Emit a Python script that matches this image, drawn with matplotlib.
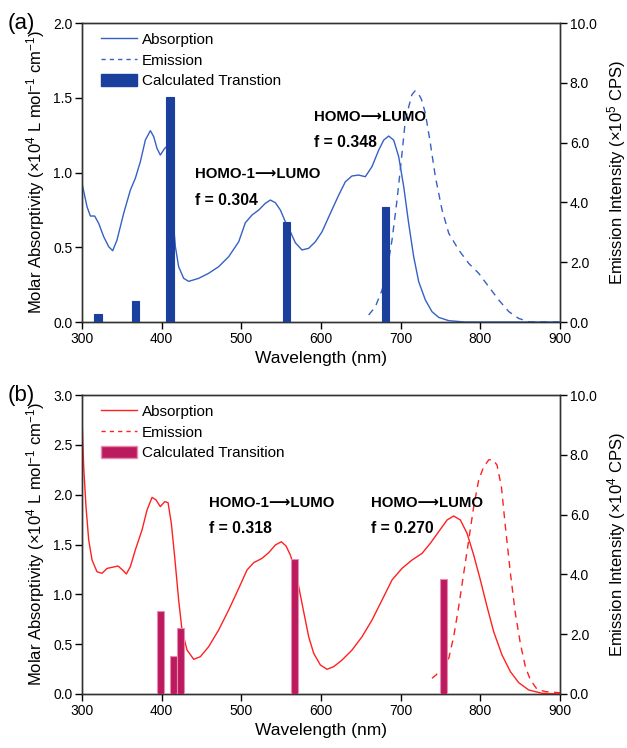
import numpy as np
import matplotlib
matplotlib.use('Agg')
import matplotlib.pyplot as plt
from matplotlib.lines import Line2D
from matplotlib.patches import Patch

plt.rcParams['font.family'] = ['Liberation Sans', 'DejaVu Sans']
plt.rcParams['mathtext.fontset'] = 'custom'
plt.rcParams['mathtext.rm'] = 'Liberation Sans'
plt.rcParams['mathtext.it'] = 'Liberation Sans:italic'

# ---- panel (a) data ----
abs_a_wl = [300, 306.3, 310.5, 315.9, 320.9, 327.2, 333.5, 338.5, 343.9, 352.3, 360.7,
            366.9, 373.2, 379.5, 385.8, 390, 394.1, 398.3, 403.8, 406.7, 411, 417.2,
            421.3, 427.6, 433.9, 446.4, 459, 471.5, 484.1, 496.7, 505, 513.4, 521.8,
            530.1, 536.4, 542.7, 549, 555.2, 561.5, 567.8, 576.1, 584.5, 592.9, 601.3,
            611.7, 622.2, 630.5, 638.9, 647.3, 655.6, 664, 672.4, 678.7, 684.9, 691.2,
            697.5, 703.8, 710, 716.3, 722.6, 731, 739.3, 747.7, 760.3, 781, 900]
abs_a_val = [0.928, 0.771, 0.709, 0.709, 0.66, 0.571, 0.504, 0.477, 0.548, 0.727, 0.883,
             0.961, 1.072, 1.217, 1.28, 1.24, 1.162, 1.117, 1.162, 1.175, 0.9, 0.504,
             0.37, 0.292, 0.272, 0.292, 0.326, 0.37, 0.437, 0.537, 0.664, 0.716, 0.749,
             0.794, 0.816, 0.798, 0.749, 0.671, 0.604, 0.53, 0.482, 0.493, 0.537, 0.604,
             0.727, 0.849, 0.938, 0.977, 0.983, 0.972, 1.04, 1.15, 1.217, 1.244, 1.217,
             1.106, 0.905, 0.66, 0.437, 0.27, 0.147, 0.069, 0.031, 0.009, 0.0, 0.0]
em_a_wl = [659.8, 668.2, 676.6, 682.9, 689.1, 695.4, 700.8, 705.9, 710, 714, 718, 722,
           726, 731, 737.2, 743.5, 751.9, 760.3, 772.8, 785.4, 797.9, 810.5, 823, 835.6,
           848.1, 860.7, 898]
em_a_val = [0.234, 0.512, 1.07, 1.74, 2.74, 4.08, 5.42, 6.76, 7.19, 7.6, 7.73, 7.65,
            7.45, 6.98, 5.98, 4.86, 3.75, 2.97, 2.41, 1.96, 1.63, 1.18, 0.74, 0.35, 0.12,
            0.01, 0.0]
bar_a_wl = [320, 367.5, 410.5, 557, 681]
bar_a_val = [0.056, 0.143, 1.506, 0.67, 0.77]

# ---- panel (b) data ----
abs_b_wl = [300, 302.1, 305, 308.4, 312.6, 318.8, 325.1, 331.4, 337.7, 345.2, 351,
            355.6, 360.7, 366.9, 375.3, 381.6, 387.9, 392.9, 398.3, 403.8, 408, 412.1,
            416.3, 421.3, 425.5, 431.8, 440.2, 448.5, 459, 471.5, 484.1, 496.7, 507.1,
            515.5, 525.9, 534.3, 542.7, 550.2, 556.1, 561.5, 567, 572, 578.2, 584.5,
            590.8, 599.2, 607.5, 615.9, 626.4, 638.9, 651.5, 664, 676.6, 689.1, 701.7,
            714.2, 726.8, 737.2, 747.7, 758.2, 766.5, 774.9, 783.3, 791.6, 800, 808.4,
            816.7, 827.2, 837.7, 848.1, 860.7, 877.4, 900]
abs_b_val = [2.77, 2.28, 1.88, 1.545, 1.344, 1.227, 1.211, 1.26, 1.271, 1.284, 1.244,
             1.204, 1.278, 1.445, 1.645, 1.846, 1.973, 1.947, 1.88, 1.93, 1.92, 1.712,
             1.378, 0.943, 0.642, 0.441, 0.348, 0.374, 0.475, 0.642, 0.843, 1.06, 1.244,
             1.318, 1.361, 1.418, 1.495, 1.528, 1.485, 1.395, 1.25, 1.077, 0.826, 0.575,
             0.408, 0.291, 0.248, 0.274, 0.341, 0.441, 0.575, 0.742, 0.943, 1.144, 1.261,
             1.344, 1.411, 1.512, 1.629, 1.746, 1.786, 1.746, 1.612, 1.395, 1.144, 0.876,
             0.625, 0.391, 0.224, 0.114, 0.04, 0.007, 0.0]
em_b_wl = [739.3, 744.3, 750, 760.3, 766.5, 772.8, 779.1, 785.4, 791.6, 797.9, 804.2,
           810.5, 815.5, 820.9, 826.4, 831.4, 837.7, 843.9, 850.2, 856.5, 862.8, 871.1,
           881.6, 900]
em_b_val = [0.525, 0.635, 0.8, 1.19, 1.92, 2.92, 4.04, 5.15, 6.26, 7.16, 7.6, 7.83,
            7.84, 7.66, 6.93, 5.6, 4.04, 2.7, 1.69, 0.91, 0.47, 0.16, 0.08, 0.04]
bar_b_wl = [398.5, 415, 424, 567, 754]
bar_b_val = [0.832, 0.384, 0.658, 1.357, 1.153]

fig = plt.figure(figsize=(6.27, 7.48), dpi=100)

note_font = ['Liberation Sans Narrow', 'Liberation Sans', 'DejaVu Sans']
panels = [
    dict(pos=[0.1308, 0.5695, 0.7624, 0.3997], tag='(a)', line='#3560C4', bar='#1B3F9C',
         edge='#1B3F9C', absw=abs_a_wl, absv=abs_a_val, emw=em_a_wl, emv=em_a_val,
         bw=bar_a_wl, bv=bar_a_val, ymax=2.0, yticks=np.arange(0, 2.01, 0.5), exp=5,
         leg='Calculated Transtion',
         notes=[(195, 0.99, 0.816, 'HOMO-1', 'f = 0.304'),
                (313.5, 1.373, 1.199, 'HOMO', 'f = 0.348')]),
    dict(pos=[0.1308, 0.0722, 0.7624, 0.3997], tag='(b)', line='#FF2020', bar='#BC1A5E',
         edge='#E68AB0', absw=abs_b_wl, absv=abs_b_val, emw=em_b_wl, emv=em_b_val,
         bw=bar_b_wl, bv=bar_b_val, ymax=3.0, yticks=np.arange(0, 3.01, 0.5), exp=4,
         leg='Calculated Transition',
         notes=[(208.5, 1.919, 1.662, 'HOMO-1', 'f = 0.318'),
                (370.5, 1.919, 1.662, 'HOMO', 'f = 0.270')]),
]

for p in panels:
    ax = fig.add_axes(p['pos'])
    ax2 = ax.twinx()
    ax.bar(p['bw'], p['bv'], width=9, color=p['bar'], edgecolor=p['edge'], linewidth=0.8,
           zorder=3)
    ax.plot(p['absw'], p['absv'], color=p['line'], lw=1.0, zorder=2)
    ax2.plot(p['emw'], p['emv'], color=p['line'], lw=1.0, ls=(0, (5, 4)))
    ax.set_zorder(ax2.get_zorder() + 1)
    ax.patch.set_visible(False)

    ax.set_xlim(300, 900)
    ax.set_ylim(0, p['ymax'])
    ax2.set_ylim(0, 10)
    ax.set_xticks(np.arange(300, 901, 100))
    ax.set_yticks(p['yticks'])
    ax.set_yticklabels([f'{v:.1f}' for v in p['yticks']])
    r_ticks = np.arange(0, 10.1, 2)
    ax2.set_yticks(r_ticks)
    ax2.set_yticklabels([f'{v:.1f}' for v in r_ticks])
    for a in (ax, ax2):
        a.tick_params(direction='out', length=5, width=1, labelsize=10, pad=2)
        for s in a.spines.values():
            s.set_linewidth(1.0)
            s.set_color('#333333')
    ax.set_xlabel('Wavelength (nm)', fontsize=12.5, labelpad=4)
    ax.set_ylabel(r'Molar Absorptivity ($\times$10$^{4}$ L mol$^{-1}$ cm$^{-1}$)',
                  fontsize=12, labelpad=4)
    ax2.set_ylabel(r'Emission Intensity ($\times$10$^{%d}$ CPS)' % p['exp'],
                   fontsize=12, labelpad=6)

    handles = [Line2D([], [], color=p['line'], lw=1.0),
               Line2D([], [], color=p['line'], lw=1.0, ls=(0, (3, 3))),
               Patch(facecolor=p['bar'], edgecolor=p['edge'])]
    ax.legend(handles, ['Absorption', 'Emission', p['leg']], loc='upper left',
              frameon=False, fontsize=11, handlelength=2.4, handleheight=0.9,
              borderaxespad=0.2, labelspacing=0.4, handletextpad=0.3,
              bbox_to_anchor=(0.02, 1.0))

    for xpx, y1, y2, homo, ftxt in p['notes']:
        xv = 300 + (xpx - 82) / 478 * 600
        ax.text(xv, y1, homo + '\u27f6LUMO', fontsize=10.8, fontweight='bold',
                family=note_font, ha='left', va='center', zorder=5)
        ax.text(xv, y2, ftxt, fontsize=11.3, fontweight='bold',
                family=note_font, ha='left', va='center', zorder=5)

    fig.text(0.012, p['pos'][1] + p['pos'][3], p['tag'], fontsize=16, ha='left',
             va='center')

fig.savefig('out.png', dpi=100)
